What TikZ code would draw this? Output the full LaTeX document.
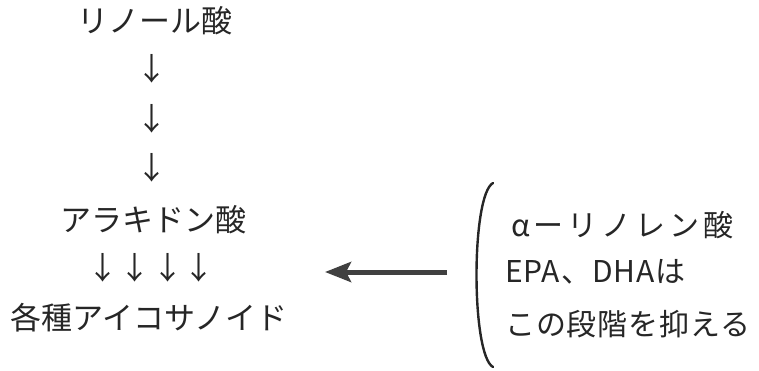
\documentclass[tikz,border=0pt]{standalone}
\usepackage{fontspec}
\setmainfont{Noto Sans CJK JP}
\newfontfamily\rfont[LetterSpace=3]{Noto Sans CJK JP}
\newfontfamily\rfonta[LetterSpace=13]{Noto Sans CJK JP}
\usetikzlibrary{arrows.meta}
\tikzset{
  jtext/.style={inner sep=0pt, font=\fontsize{31}{36}\selectfont, text=black!85},
  rtext/.style={inner sep=0pt, anchor=west, font=\rfont\fontsize{30}{34}\selectfont, text=black!85},
  rtexta/.style={inner sep=0pt, anchor=west, font=\rfonta\fontsize{30}{34}\selectfont, text=black!85},
  darr/.style={inner sep=0pt, font=\fontsize{31}{34}\selectfont, text=black!85},
  bigarrow/.style={line width=5pt, draw=black!75, -{Stealth[length=26pt,width=20pt,inset=5pt]}},
  paren/.style={line width=2.4pt, draw=black!85, line cap=round}
}
\begin{document}
\begin{tikzpicture}[x=1pt,y=-1pt]
\useasboundingbox (0,0) rectangle (759,370);
\node[jtext] (lin) at (155,21) {リノール酸};
\node[darr] (a1) at (152,69) {↓};
\node[darr] (a2) at (152,119) {↓};
\node[darr] (a3) at (152,168) {↓};
\node[jtext] (ara) at (153,220) {アラキドン酸};
\node[darr] (b1) at (103,268) {↓};
\node[darr] (b2) at (135,268) {↓};
\node[darr] (b3) at (168,268) {↓};
\node[darr] (b4) at (199,268) {↓};
\node[jtext] (eic) at (149,318) {各種アイコサノイド};
\node[rtexta] (r1) at (511,225) {αーリノレン酸};
\node[rtext] (r2) at (505,272) {EPA、DHAは};
\node[rtext] (r3) at (505,324) {この段階を抑える};
\coordinate (ps) at (493,183);
\coordinate (pe) at (493,367);
\draw[paren] (ps) .. controls (471,195) and (471,355) .. (pe);
\coordinate (as) at (447,272);
\coordinate (ae) at (325,272);
\draw[bigarrow] (as) -- (ae);
\end{tikzpicture}
\end{document}
